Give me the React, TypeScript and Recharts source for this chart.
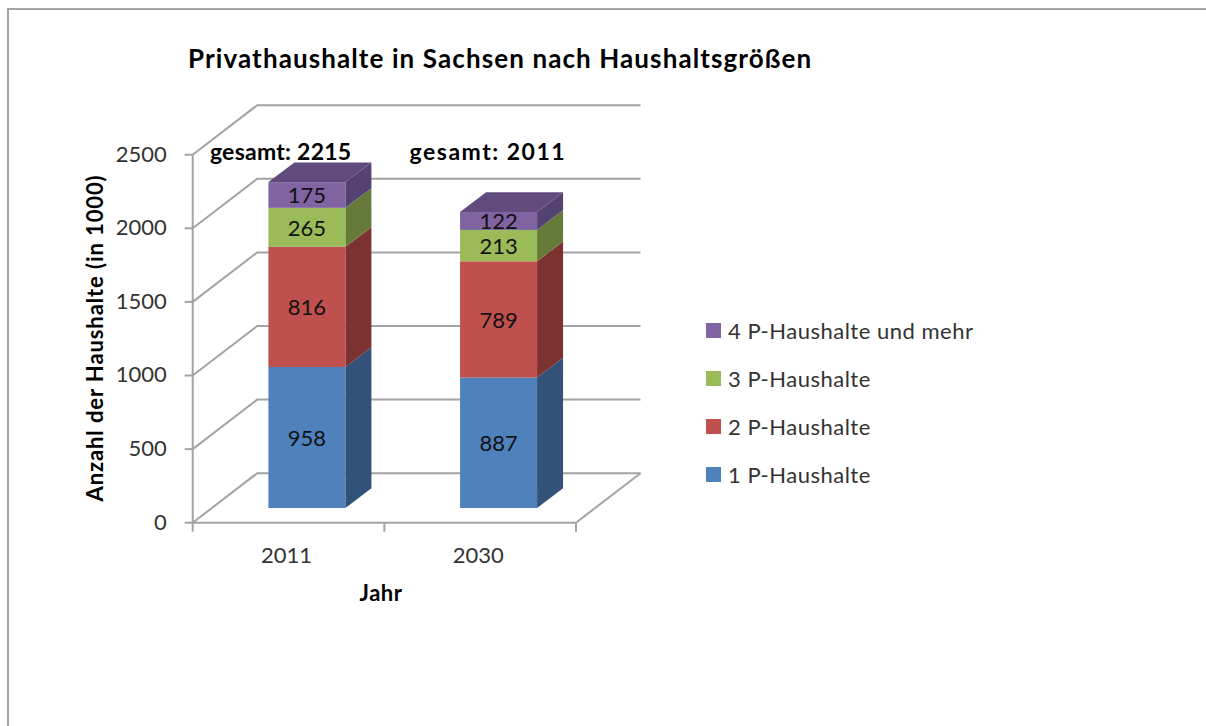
import React from "react";
import { BarChart, Bar, XAxis, YAxis, CartesianGrid, Legend, LabelList } from "recharts";

const categories = ["2011", "2030"];
const onePerson = [958, 887];
const twoPerson = [816, 789];
const threePerson = [265, 213];
const fourPlus = [175, 122];
const totals = [2215, 2011];
const yTicks = [0, 500, 1000, 1500, 2000, 2500];

const rows = categories.map((jahr, i) => ({
  jahr,
  p1: onePerson[i],
  p2: twoPerson[i],
  p3: threePerson[i],
  p4: fourPlus[i],
  total: totals[i],
}));

const FONT = "Lato, Carlito, sans-serif";
const GRID = "#a3a3a3";
const W = 1206;
const H = 726;
const AXIS_SIZE = 1;
const PLOT = { left: 192.7, top: 154.7, right: 630, bottom: 203.3 };
const M = { left: PLOT.left - AXIS_SIZE, top: PLOT.top, right: PLOT.right, bottom: PLOT.bottom - AXIS_SIZE };
const BAND = (W - PLOT.left - PLOT.right) / categories.length;
const WALL_DX = 64.5;
const WALL_DY = -49.5;
const DEPTH_DX = 26;
const DEPTH_DY = -19.7;
const BAR_SHIFT_X = 18.7;
const BAR_SHIFT_Y = -14.7;

const Block3D = (side: string, top?: string) => (p: any) => {
  const x = p.x + BAR_SHIFT_X;
  const y = p.y + BAR_SHIFT_Y;
  const w = p.width;
  const h = p.height;
  const r = x + w;
  const b = y + h;
  return (
    <g>
      <polygon
        points={`${r},${y} ${r + DEPTH_DX},${y + DEPTH_DY} ${r + DEPTH_DX},${b + DEPTH_DY} ${r},${b}`}
        fill={side}
      />
      {top && (
        <polygon
          points={`${x},${y} ${x + DEPTH_DX},${y + DEPTH_DY} ${r + DEPTH_DX},${y + DEPTH_DY} ${r},${y}`}
          fill={top}
        />
      )}
      <rect x={x} y={y} width={w} height={h} fill={p.fill} />
    </g>
  );
};

const ValueLabel = (p: any) => (
  <text
    x={p.x + p.width / 2 + BAR_SHIFT_X}
    y={p.y + p.height / 2 + BAR_SHIFT_Y}
    textAnchor="middle"
    dominantBaseline="central"
    fontFamily={FONT}
    fontSize={22}
    fill="#111"
  >
    {p.value}
  </text>
);

const TotalLabel = (p: any) => (
  <text
    x={p.x + p.width / 2 + (p.index === 0 ? -7.5 : 8)}
    y={160}
    textAnchor="middle"
    fontFamily={FONT}
    fontSize={23}
    fontWeight={700}
    letterSpacing={p.index === 0 ? 0.25 : 1.5}
    fill="#000"
  >
    {`gesamt: ${p.value}`}
  </text>
);

const GridLine = (p: any) => {
  const { x1, y1, x2 } = p;
  const isFloor = Math.abs(y1 - (H - PLOT.bottom)) < 1;
  const bx = x1 + WALL_DX;
  const by = y1 + WALL_DY;
  const ex = x2 + WALL_DX;
  return (
    <g>
      <polyline points={`${x1},${y1} ${bx},${by} ${ex},${by}`} fill="none" stroke={GRID} strokeWidth={2} />
      {isFloor && <line x1={x2} y1={y1} x2={ex} y2={by} stroke={GRID} strokeWidth={2} />}
    </g>
  );
};

const XTick = (p: any) => {
  const left = p.x - BAND / 2;
  const last = p.index === categories.length - 1;
  const y0 = H - PLOT.bottom;
  return (
    <g>
      <line x1={left} y1={y0} x2={left} y2={y0 + 9} stroke={GRID} strokeWidth={2} />
      {last && <line x1={left + BAND} y1={y0} x2={left + BAND} y2={y0 + 9} stroke={GRID} strokeWidth={2} />}
      <text x={p.x - 2} y={563} textAnchor="middle" fontFamily={FONT} fontSize={22} fill="#333">
        {p.payload.value}
      </text>
    </g>
  );
};

const LegendBox = ({ payload }: any) => (
  <div style={{ fontFamily: FONT, fontSize: 22, color: "#333" }}>
    {[...(payload || [])].reverse().map((e: any) => (
      <div key={e.value} style={{ height: 48, display: "flex", alignItems: "center", whiteSpace: "nowrap" }}>
        <span style={{ width: 15, height: 15, background: e.color, marginRight: 7, flex: "none" }} />
        <span style={{ letterSpacing: 0.5 }}>{e.value}</span>
      </div>
    ))}
  </div>
);

export default function App() {
  return (
    <div style={{ position: "absolute", left: 0, top: 0, width: W, height: H, overflow: "hidden", background: "#fff" }}>
      <div
        style={{
          position: "absolute",
          left: 7,
          top: 8,
          width: W,
          height: H,
          borderLeft: "2.5px solid #a3a3a3",
          borderTop: "2.5px solid #a3a3a3",
        }}
      />
      <div
        style={{
          position: "absolute",
          left: 188,
          top: 42,
          fontFamily: FONT,
          fontSize: 26,
          letterSpacing: 1.1,
          fontWeight: 700,
          color: "#000",
          whiteSpace: "nowrap",
        }}
      >
        Privathaushalte in Sachsen nach Haushaltsgrößen
      </div>
      <BarChart width={W} height={H} data={rows} margin={M} barSize={77} barCategoryGap={0} style={{ position: "absolute", left: 0, top: 0 }}>
        <CartesianGrid horizontal={GridLine as any} vertical={false} />
        <XAxis
          dataKey="jahr"
          height={AXIS_SIZE}
          tick={XTick as any}
          tickLine={false}
          axisLine={{ stroke: GRID, strokeWidth: 2 }}
          interval={0}
          label={{
            content: () => (
              <text x={381} y={601} textAnchor="middle" fontFamily={FONT} fontSize={22} letterSpacing={0.5} fontWeight={700} fill="#000">
                Jahr
              </text>
            ),
          }}
        />
        <YAxis
          domain={[0, 2500]}
          width={AXIS_SIZE}
          ticks={yTicks}
          interval={0}
          tickSize={8}
          tickMargin={18}
          tick={{ fontFamily: FONT, fontSize: 22, fill: "#333", dy: -1 }}
          tickLine={{ stroke: GRID, strokeWidth: 2 }}
          axisLine={{ stroke: GRID, strokeWidth: 2 }}
          label={{
            content: () => (
              <text
                transform="translate(103 338) rotate(-90)"
                textAnchor="middle"
                fontFamily={FONT}
                fontSize={22}
                letterSpacing={0.9}
                fontWeight={700}
                fill="#000"
              >
                Anzahl der Haushalte (in 1000)
              </text>
            ),
          }}
        />
        <Legend
          layout="horizontal"
          align="center"
          verticalAlign="middle"
          content={LegendBox as any}
          wrapperStyle={{ left: 706, top: 306, width: 320, margin: 0 }}
        />
        <Bar dataKey="p1" name="1 P-Haushalte" stackId="a" fill="#4F81BD" shape={Block3D("#32527A") as any} isAnimationActive={false}>
          <LabelList dataKey="p1" content={ValueLabel as any} />
        </Bar>
        <Bar dataKey="p2" name="2 P-Haushalte" stackId="a" fill="#C0504D" shape={Block3D("#7C3230") as any} isAnimationActive={false}>
          <LabelList dataKey="p2" content={ValueLabel as any} />
        </Bar>
        <Bar dataKey="p3" name="3 P-Haushalte" stackId="a" fill="#9BBB59" shape={Block3D("#667A3A") as any} isAnimationActive={false}>
          <LabelList dataKey="p3" content={ValueLabel as any} />
        </Bar>
        <Bar dataKey="p4" name="4 P-Haushalte und mehr" stackId="a" fill="#8064A2" shape={Block3D("#544370", "#614B7D") as any} isAnimationActive={false}>
          <LabelList dataKey="p4" content={ValueLabel as any} />
          <LabelList dataKey="total" content={TotalLabel as any} />
        </Bar>
      </BarChart>
    </div>
  );
}
